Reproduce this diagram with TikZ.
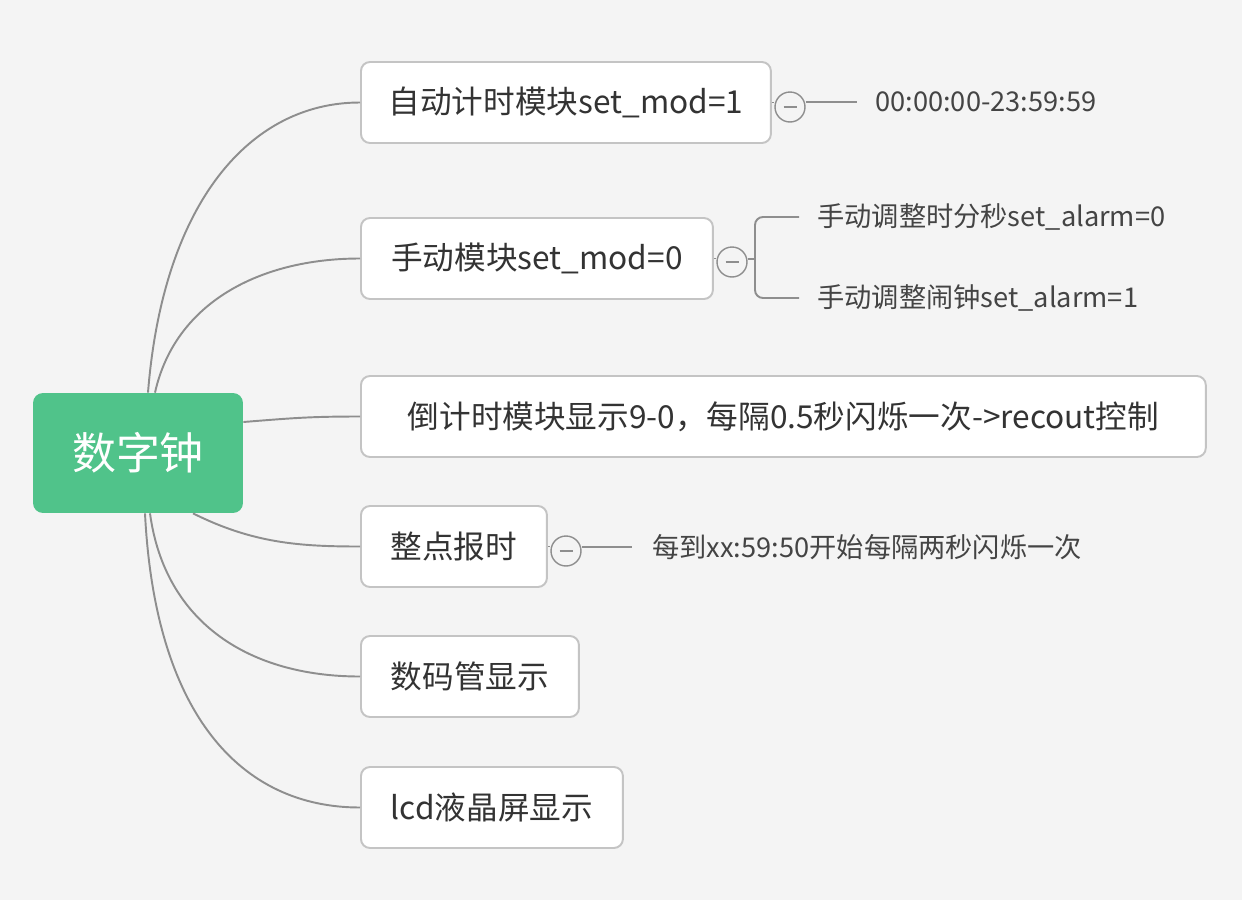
\documentclass[tikz,border=0pt]{standalone}
\usepackage{fontspec}
\setmainfont{Noto Sans CJK SC}
\usetikzlibrary{calc}
\definecolor{bgpaper}{HTML}{F4F4F4}
\definecolor{rootgreen}{HTML}{50C38A}
\definecolor{linegray}{HTML}{8E8E8E}
\definecolor{boxline}{HTML}{C4C4C4}
\definecolor{inkgray}{HTML}{333333}
\definecolor{leafgray}{HTML}{444444}

\tikzset{
  root/.style={fill=rootgreen, rounded corners=0.2cm, minimum width=4.2cm, minimum height=2.4cm, text=white, font=\fontsize{25}{30}\selectfont},
  topic/.style={draw=boxline, line width=1.1pt, fill=white, rounded corners=0.18cm, anchor=west, minimum height=1.62cm, text=inkgray, font=\fontsize{18}{21}\selectfont},
  leaf/.style={anchor=west, inner xsep=0pt, text=leafgray, font=\fontsize{15.5}{18}\selectfont},
  fold/.style={circle, draw=linegray, line width=0.8pt, fill=bgpaper, minimum size=0.6cm, inner sep=0pt,
    path picture={\draw[linegray, line width=0.8pt] ($(path picture bounding box.center)+(-6.5,0)$) -- ($(path picture bounding box.center)+(6.5,0)$);}},
  link/.style={draw=linegray, line width=1.1pt},
}

\begin{document}
\begin{tikzpicture}[x=0.02cm, y=-0.02cm]
			%%%%% START %%%%%
			
			\useasboundingbox (0, 0) rectangle (1242, 900);
			\fill[bgpaper] (0, 0) rectangle (1242, 900);
			
			\node[root] (root) at (138, 453) {数字钟};
			
			\node[topic, minimum width=8.2cm] (auto) at (360, 102.5) {自动计时模块set\_mod=1};
			\node[topic, minimum width=7.04cm] (manual) at (360, 258.5) {手动模块set\_mod=0};
			\node[topic, minimum width=16.9cm] (countdown) at (360, 416.5) {倒计时模块显示9-0，每隔0.5秒闪烁一次->recout控制};
			\node[topic, minimum width=3.72cm] (chime) at (360, 546.5) {整点报时};
			\node[topic, minimum width=4.36cm] (segment) at (360, 676.5) {数码管显示};
			\node[topic, minimum width=5.24cm] (lcd) at (360, 807.5) {lcd液晶屏显示};
			
			% root to topics
			\draw[link] ([xshift=0.2cm]root.north) .. controls +(15, -190) and +(-110, 0) .. (auto.west);
			\draw[link] ([xshift=0.34cm]root.north) .. controls +(20, -90) and +(-100, 0) .. (manual.west);
			\draw[link] ([yshift=0.62cm]root.east) .. controls +(50, -4) and +(-50, 0) .. (countdown.west);
			\draw[link] ([xshift=1.1cm]root.south) .. controls +(60, 30) and +(-60, 0) .. (chime.west);
			\draw[link] ([xshift=0.24cm]root.south) .. controls +(15, 110) and +(-110, 0) .. (segment.west);
			\draw[link] ([xshift=0.14cm]root.south) .. controls +(10, 200) and +(-120, 0) .. (lcd.west);
			
			% auto timer
			\node[fold] (autofold) at (790, 107) {};
			\node[leaf] (range) at (875, 102) {00:00:00-23:59:59};
			\draw[link] (auto.east) -- (auto.east -| autofold.west);
			\draw[link] (autofold.east |- range.west) -- ([xshift=-0.36cm]range.west);
			
			% manual setting
			\node[fold] (manualfold) at (732, 262) {};
			\node[leaf] (settime) at (817, 217) {手动调整时分秒set\_alarm=0};
			\node[leaf] (setalarm) at (817, 298) {手动调整闹钟set\_alarm=1};
			\coordinate (fork) at (755, 259);
			\draw[link] (manual.east) -- (manual.east -| manualfold.west);
			\draw[link] (manualfold.east |- fork) -- (fork);
			\draw[link, rounded corners=0.16cm] ([xshift=-0.36cm]settime.west) -| (fork) |- ([xshift=-0.36cm]setalarm.west);
			
			% hourly chime
			\node[fold] (chimefold) at (566, 551) {};
			\node[leaf] (blink) at (652, 547) {每到xx:59:50开始每隔两秒闪烁一次};
			\draw[link] (chime.east) -- (chime.east -| chimefold.west);
			\draw[link] (chimefold.east |- blink.west) -- ([xshift=-0.4cm]blink.west);
			
			%%%%% END %%%%%
\end{tikzpicture}
\end{document}
